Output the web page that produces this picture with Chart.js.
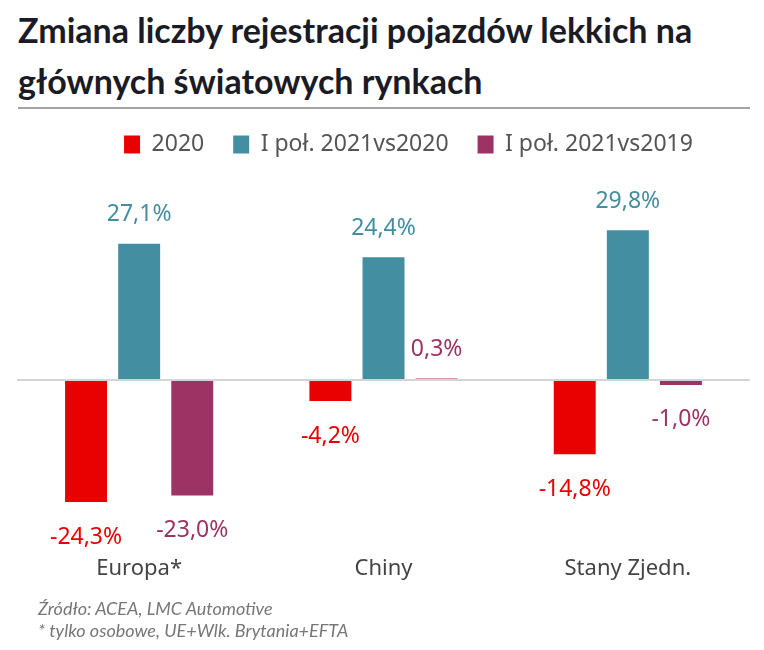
<!DOCTYPE html>
<html>
<head>
<meta charset="utf-8">
<script src="https://cdn.jsdelivr.net/npm/chart.js@4/dist/chart.umd.min.js"></script>
<style>
  body { margin: 0; background: #fff; width: 764px; height: 650px; position: relative; overflow: hidden; }
  #title { position: absolute; left: 18px; top: 4px; width: 740px; font-family: Lato, sans-serif; font-weight: 700; font-size: 34px; line-height: 51px; color: #1b1b26; }
  #rule { position: absolute; left: 18px; top: 107px; width: 732px; height: 2px; background: #a3a3a3; }
  #wrap { position: absolute; left: 0; top: 104px; width: 764px; height: 519px; }
  #note { position: absolute; left: 38px; top: 597px; font-family: Lato, sans-serif; font-style: italic; font-size: 18px; line-height: 22px; color: #777; }
</style>
</head>
<body>
<div id="title">Zmiana liczby rejestracji pojazdów lekkich na<br>głównych światowych rynkach</div>
<div id="rule"></div>
<div id="wrap"><canvas id="chart"></canvas></div>
<div id="note">Źródło: ACEA, LMC Automotive<br>* tylko osobowe, UE+Wlk. Brytania+EFTA</div>
<script>
const categories = ['Europa*', 'Chiny', 'Stany Zjedn.'];
const seriesNames = ['2020', 'I poł. 2021vs2020', 'I poł. 2021vs2019'];
const values2020 = [-24.3, -4.2, -14.8];
const valuesH1vs2020 = [27.1, 24.4, 29.8];
const valuesH1vs2019 = [-23.0, 0.3, -1.0];
const seriesColors = ['#e90000', '#438ea0', '#9c3364'];

// value labels above / below each bar, Polish decimal comma
const barLabels = {
    id: 'barLabels',
    afterDatasetsDraw(chart) {
        const ctx = chart.ctx;
        ctx.save();
        ctx.font = '23px "Noto Sans", sans-serif';
        ctx.textAlign = 'center';
        ctx.textBaseline = 'middle';
        chart.data.datasets.forEach((ds, i) => {
            const meta = chart.getDatasetMeta(i);
            ctx.fillStyle = ds.backgroundColor;
            meta.data.forEach((bar, j) => {
                const v = ds.data[j];
                const y = v >= 0 ? bar.y - 29 : bar.y + 35;
                ctx.fillText(v.toFixed(1).replace('.', ',') + '%', bar.x, y);
            });
        });
        ctx.restore();
    }
};

// extra room under the legend, and nudge it to the right like the original
const legendSpace = {
    id: 'legendSpace',
    beforeInit(chart) {
        const fit = chart.legend.fit;
        chart.legend.fit = function () {
            fit.bind(chart.legend)();
            this.height += 13;
        };
    },
    afterLayout(chart) {
        chart.legend.left += 25;
        chart.legend.right += 25;
    }
};

new Chart(document.getElementById('chart'), {
    type: 'bar',
    data: {
        labels: categories,
        datasets: [
            { label: seriesNames[0], data: values2020, backgroundColor: seriesColors[0] },
            { label: seriesNames[1], data: valuesH1vs2020, backgroundColor: seriesColors[1] },
            { label: seriesNames[2], data: valuesH1vs2019, backgroundColor: seriesColors[2] }
        ]
    },
    options: {
        responsive: true,
        maintainAspectRatio: false,
        animation: false,
        categoryPercentage: 0.652,
        barPercentage: 0.79,
        layout: { padding: { left: 17, right: 14, top: 0, bottom: 16 } },
        scales: {
            x: {
                grid: { display: false, drawTicks: false },
                border: { display: false },
                ticks: { color: '#444', font: { family: '"Noto Sans", sans-serif', size: 22 }, padding: 25 }
            },
            y: {
                min: -30,
                max: 40,
                ticks: { display: false, stepSize: 10 },
                border: { display: false },
                grid: {
                    drawTicks: false,
                    lineWidth: 2,
                    color: c => c.tick.value === 0 ? '#d4d4d4' : 'rgba(0,0,0,0)'
                }
            }
        },
        plugins: {
            tooltip: { enabled: false },
            legend: {
                position: 'top',
                labels: {
                    boxWidth: 16,
                    boxHeight: 18,
                    padding: 29,
                    color: '#555',
                    font: { family: '"Noto Sans", sans-serif', size: 23 }
                }
            }
        }
    },
    plugins: [barLabels, legendSpace]
});
</script>
</body>
</html>
